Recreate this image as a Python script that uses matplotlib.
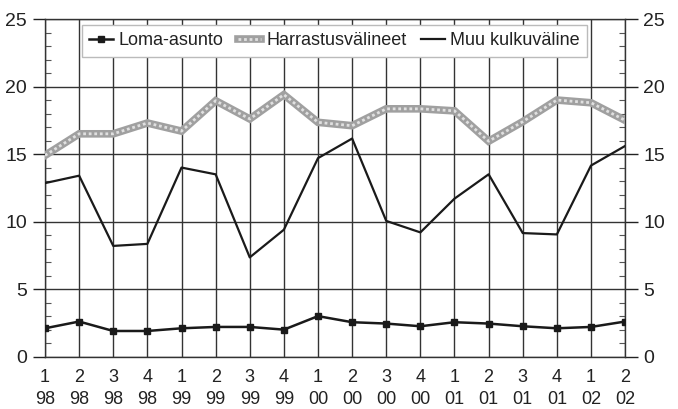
import matplotlib
matplotlib.use("Agg")
import matplotlib.pyplot as plt
from matplotlib.ticker import MultipleLocator

plt.rcParams['font.family'] = ['Liberation Sans', 'DejaVu Sans']

quarters = ['1', '2', '3', '4', '1', '2', '3', '4', '1', '2', '3', '4', '1', '2', '3', '4', '1', '2']
years = ['98', '98', '98', '98', '99', '99', '99', '99', '00', '00', '00', '00', '01', '01', '01', '01', '02', '02']

loma_asunto = [2.1, 2.6, 1.9, 1.9, 2.1, 2.2, 2.2, 2.0, 3.0, 2.55, 2.45, 2.25, 2.55, 2.45, 2.25, 2.1, 2.2, 2.6]
harrastus = [14.9, 16.5, 16.5, 17.3, 16.7, 18.95, 17.6, 19.4, 17.35, 17.1, 18.35, 18.35, 18.2, 15.95, 17.4, 19.0, 18.8, 17.5]
muu_kulku = [12.85, 13.4, 8.2, 8.35, 14.0, 13.5, 7.35, 9.4, 14.7, 16.15, 10.05, 9.2, 11.7, 13.5, 9.15, 9.05, 14.15, 15.6]

x = list(range(len(quarters)))
labels = [q + '\n' + y for q, y in zip(quarters, years)]

fig = plt.figure(figsize=(6.78, 4.09), dpi=100)
ax = fig.add_axes([0.0664, 0.128, 0.8556, 0.8255])

ax.plot(x, loma_asunto, color='#1a1a1a', lw=1.8, marker='s', ms=4.5, label='Loma-asunto', zorder=4)
# harrastus: thick grey band with light dots on top
h1, = ax.plot(x, harrastus, color='#a0a0a0', lw=5.5, solid_joinstyle='miter', zorder=3)
h2, = ax.plot(x, harrastus, color='#e0e0e0', lw=2.0, ls=(0, (1, 1)), zorder=3)
ax.plot(x, muu_kulku, color='#1a1a1a', lw=1.6, label='Muu kulkuväline', zorder=4)

ax.set_xlim(0, 17)
ax.set_ylim(0, 25)
ax.set_xticks(x)
ax.set_xticklabels(labels, fontsize=13, color='#222222', linespacing=1.35)
ax.yaxis.set_major_locator(MultipleLocator(5))
ax.yaxis.set_minor_locator(MultipleLocator(1))
ax.tick_params(axis='y', which='major', direction='out', length=9, width=1, labelsize=14,
               colors='#222222', right=True, labelright=True, pad=4)
ax.tick_params(axis='y', which='minor', direction='in', length=4, width=0.8, right=True, color='#555555')
ax.tick_params(axis='x', which='major', length=0, pad=9)

ax.grid(True, which='major', color='#333333', lw=1.0)
ax.set_axisbelow(True)
for s in ax.spines.values():
    s.set_color('#333333')
    s.set_linewidth(1.0)

handles, lbls = ax.get_legend_handles_labels()
leg = ax.legend([handles[0], (h1, h2), handles[1]],
                ['Loma-asunto', 'Harrastusvälineet', 'Muu kulkuväline'],
                loc='upper left', bbox_to_anchor=(0.064, 0.982), borderaxespad=0,
                ncol=3, fontsize=13,
                frameon=True, fancybox=False, handlelength=1.3, handletextpad=0.3,
                columnspacing=0.8, borderpad=0.4)
leg.get_frame().set_edgecolor('#bbbbbb')
leg.get_frame().set_linewidth(1.0)
leg.get_frame().set_facecolor('white')
leg.get_frame().set_alpha(1)
for t in leg.get_texts():
    t.set_color('#222222')

fig.savefig('out.png', dpi=100)
